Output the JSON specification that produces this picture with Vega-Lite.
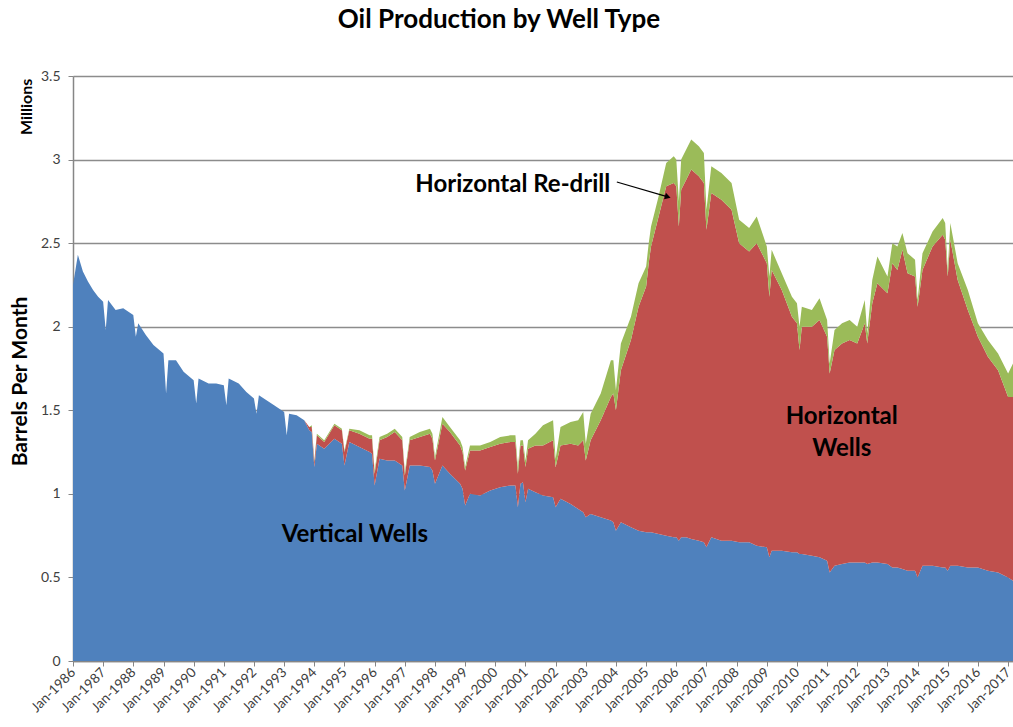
{
  "$schema": "https://vega.github.io/schema/vega-lite/v6.json",
  "width": 940,
  "height": 585,
  "autosize": {"type": "none"},
  "padding": {"left": 73, "top": 76, "right": 0, "bottom": 66},
  "background": "white",
  "config": {
    "font": "Lato",
    "view": {"stroke": null},
    "axis": {"labelFont": "Lato", "titleFont": "Lato"}
  },
  "title": {
    "text": "Oil Production by Well Type",
    "font": "Lato",
    "fontSize": 26,
    "fontWeight": "bold",
    "color": "#000000",
    "anchor": "middle",
    "dx": -44,
    "baseline": "alphabetic",
    "offset": 15
  },
  "datasets": {
    "production": [
      {"date": "1986-01-01", "vertical_wells": 2.25, "horizontal_wells": 0, "horizontal_redrill": 0},
      {"date": "1986-03-01", "vertical_wells": 2.43, "horizontal_wells": 0, "horizontal_redrill": 0},
      {"date": "1986-05-01", "vertical_wells": 2.33, "horizontal_wells": 0, "horizontal_redrill": 0},
      {"date": "1986-07-01", "vertical_wells": 2.27, "horizontal_wells": 0, "horizontal_redrill": 0},
      {"date": "1986-09-01", "vertical_wells": 2.22, "horizontal_wells": 0, "horizontal_redrill": 0},
      {"date": "1986-11-01", "vertical_wells": 2.18, "horizontal_wells": 0, "horizontal_redrill": 0},
      {"date": "1987-01-01", "vertical_wells": 2.15, "horizontal_wells": 0, "horizontal_redrill": 0},
      {"date": "1987-02-01", "vertical_wells": 1.98, "horizontal_wells": 0, "horizontal_redrill": 0},
      {"date": "1987-03-01", "vertical_wells": 2.16, "horizontal_wells": 0, "horizontal_redrill": 0},
      {"date": "1987-06-01", "vertical_wells": 2.10, "horizontal_wells": 0, "horizontal_redrill": 0},
      {"date": "1987-09-01", "vertical_wells": 2.11, "horizontal_wells": 0, "horizontal_redrill": 0},
      {"date": "1988-01-01", "vertical_wells": 2.07, "horizontal_wells": 0, "horizontal_redrill": 0},
      {"date": "1988-02-01", "vertical_wells": 1.94, "horizontal_wells": 0, "horizontal_redrill": 0},
      {"date": "1988-03-01", "vertical_wells": 2.02, "horizontal_wells": 0, "horizontal_redrill": 0},
      {"date": "1988-06-01", "vertical_wells": 1.95, "horizontal_wells": 0, "horizontal_redrill": 0},
      {"date": "1988-09-01", "vertical_wells": 1.89, "horizontal_wells": 0, "horizontal_redrill": 0},
      {"date": "1989-01-01", "vertical_wells": 1.84, "horizontal_wells": 0, "horizontal_redrill": 0},
      {"date": "1989-02-01", "vertical_wells": 1.60, "horizontal_wells": 0, "horizontal_redrill": 0},
      {"date": "1989-03-01", "vertical_wells": 1.80, "horizontal_wells": 0, "horizontal_redrill": 0},
      {"date": "1989-06-01", "vertical_wells": 1.80, "horizontal_wells": 0, "horizontal_redrill": 0},
      {"date": "1989-09-01", "vertical_wells": 1.73, "horizontal_wells": 0, "horizontal_redrill": 0},
      {"date": "1990-01-01", "vertical_wells": 1.68, "horizontal_wells": 0, "horizontal_redrill": 0},
      {"date": "1990-02-01", "vertical_wells": 1.54, "horizontal_wells": 0, "horizontal_redrill": 0},
      {"date": "1990-03-01", "vertical_wells": 1.69, "horizontal_wells": 0, "horizontal_redrill": 0},
      {"date": "1990-07-01", "vertical_wells": 1.66, "horizontal_wells": 0, "horizontal_redrill": 0},
      {"date": "1990-10-01", "vertical_wells": 1.66, "horizontal_wells": 0, "horizontal_redrill": 0},
      {"date": "1991-01-01", "vertical_wells": 1.65, "horizontal_wells": 0, "horizontal_redrill": 0},
      {"date": "1991-02-01", "vertical_wells": 1.53, "horizontal_wells": 0, "horizontal_redrill": 0},
      {"date": "1991-03-01", "vertical_wells": 1.69, "horizontal_wells": 0, "horizontal_redrill": 0},
      {"date": "1991-07-01", "vertical_wells": 1.66, "horizontal_wells": 0, "horizontal_redrill": 0},
      {"date": "1991-10-01", "vertical_wells": 1.61, "horizontal_wells": 0, "horizontal_redrill": 0},
      {"date": "1992-01-01", "vertical_wells": 1.57, "horizontal_wells": 0, "horizontal_redrill": 0},
      {"date": "1992-02-01", "vertical_wells": 1.48, "horizontal_wells": 0, "horizontal_redrill": 0},
      {"date": "1992-03-01", "vertical_wells": 1.59, "horizontal_wells": 0, "horizontal_redrill": 0},
      {"date": "1992-06-01", "vertical_wells": 1.56, "horizontal_wells": 0, "horizontal_redrill": 0},
      {"date": "1992-09-01", "vertical_wells": 1.53, "horizontal_wells": 0, "horizontal_redrill": 0},
      {"date": "1993-01-01", "vertical_wells": 1.49, "horizontal_wells": 0, "horizontal_redrill": 0},
      {"date": "1993-02-01", "vertical_wells": 1.35, "horizontal_wells": 0, "horizontal_redrill": 0},
      {"date": "1993-03-01", "vertical_wells": 1.48, "horizontal_wells": 0, "horizontal_redrill": 0},
      {"date": "1993-06-01", "vertical_wells": 1.47, "horizontal_wells": 0, "horizontal_redrill": 0},
      {"date": "1993-09-01", "vertical_wells": 1.44, "horizontal_wells": 0, "horizontal_redrill": 0},
      {"date": "1993-11-01", "vertical_wells": 1.38, "horizontal_wells": 0.02, "horizontal_redrill": 0},
      {"date": "1993-12-01", "vertical_wells": 1.37, "horizontal_wells": 0.03, "horizontal_redrill": 0.01},
      {"date": "1994-01-01", "vertical_wells": 1.16, "horizontal_wells": 0.03, "horizontal_redrill": 0.01},
      {"date": "1994-02-01", "vertical_wells": 1.30, "horizontal_wells": 0.05, "horizontal_redrill": 0.01},
      {"date": "1994-05-01", "vertical_wells": 1.27, "horizontal_wells": 0.04, "horizontal_redrill": 0.01},
      {"date": "1994-09-01", "vertical_wells": 1.33, "horizontal_wells": 0.08, "horizontal_redrill": 0.01},
      {"date": "1994-12-01", "vertical_wells": 1.30, "horizontal_wells": 0.08, "horizontal_redrill": 0.01},
      {"date": "1995-01-01", "vertical_wells": 1.17, "horizontal_wells": 0.08, "horizontal_redrill": 0.01},
      {"date": "1995-03-01", "vertical_wells": 1.31, "horizontal_wells": 0.07, "horizontal_redrill": 0.01},
      {"date": "1995-07-01", "vertical_wells": 1.28, "horizontal_wells": 0.08, "horizontal_redrill": 0.02},
      {"date": "1995-11-01", "vertical_wells": 1.25, "horizontal_wells": 0.08, "horizontal_redrill": 0.02},
      {"date": "1995-12-01", "vertical_wells": 1.24, "horizontal_wells": 0.09, "horizontal_redrill": 0.02},
      {"date": "1996-01-01", "vertical_wells": 1.05, "horizontal_wells": 0.07, "horizontal_redrill": 0.02},
      {"date": "1996-03-01", "vertical_wells": 1.21, "horizontal_wells": 0.11, "horizontal_redrill": 0.02},
      {"date": "1996-06-01", "vertical_wells": 1.20, "horizontal_wells": 0.14, "horizontal_redrill": 0.02},
      {"date": "1996-09-01", "vertical_wells": 1.20, "horizontal_wells": 0.17, "horizontal_redrill": 0.02},
      {"date": "1996-12-01", "vertical_wells": 1.17, "horizontal_wells": 0.15, "horizontal_redrill": 0.02},
      {"date": "1997-01-01", "vertical_wells": 1.02, "horizontal_wells": 0.09, "horizontal_redrill": 0.02},
      {"date": "1997-03-01", "vertical_wells": 1.17, "horizontal_wells": 0.15, "horizontal_redrill": 0.02},
      {"date": "1997-07-01", "vertical_wells": 1.17, "horizontal_wells": 0.17, "horizontal_redrill": 0.03},
      {"date": "1997-11-01", "vertical_wells": 1.16, "horizontal_wells": 0.20, "horizontal_redrill": 0.03},
      {"date": "1997-12-01", "vertical_wells": 1.14, "horizontal_wells": 0.19, "horizontal_redrill": 0.03},
      {"date": "1998-01-01", "vertical_wells": 1.06, "horizontal_wells": 0.14, "horizontal_redrill": 0.02},
      {"date": "1998-04-01", "vertical_wells": 1.17, "horizontal_wells": 0.25, "horizontal_redrill": 0.04},
      {"date": "1998-07-01", "vertical_wells": 1.12, "horizontal_wells": 0.25, "horizontal_redrill": 0.03},
      {"date": "1998-11-01", "vertical_wells": 1.06, "horizontal_wells": 0.23, "horizontal_redrill": 0.03},
      {"date": "1998-12-01", "vertical_wells": 1.03, "horizontal_wells": 0.22, "horizontal_redrill": 0.03},
      {"date": "1999-01-01", "vertical_wells": 0.93, "horizontal_wells": 0.21, "horizontal_redrill": 0.02},
      {"date": "1999-03-01", "vertical_wells": 1.00, "horizontal_wells": 0.26, "horizontal_redrill": 0.03},
      {"date": "1999-07-01", "vertical_wells": 0.99, "horizontal_wells": 0.27, "horizontal_redrill": 0.03},
      {"date": "1999-11-01", "vertical_wells": 1.02, "horizontal_wells": 0.26, "horizontal_redrill": 0.03},
      {"date": "2000-03-01", "vertical_wells": 1.04, "horizontal_wells": 0.26, "horizontal_redrill": 0.04},
      {"date": "2000-07-01", "vertical_wells": 1.05, "horizontal_wells": 0.26, "horizontal_redrill": 0.04},
      {"date": "2000-09-01", "vertical_wells": 1.05, "horizontal_wells": 0.26, "horizontal_redrill": 0.04},
      {"date": "2000-10-01", "vertical_wells": 0.92, "horizontal_wells": 0.20, "horizontal_redrill": 0.04},
      {"date": "2000-11-01", "vertical_wells": 1.06, "horizontal_wells": 0.23, "horizontal_redrill": 0.03},
      {"date": "2000-12-01", "vertical_wells": 1.07, "horizontal_wells": 0.22, "horizontal_redrill": 0.03},
      {"date": "2001-01-01", "vertical_wells": 0.95, "horizontal_wells": 0.21, "horizontal_redrill": 0.04},
      {"date": "2001-02-01", "vertical_wells": 1.03, "horizontal_wells": 0.24, "horizontal_redrill": 0.05},
      {"date": "2001-05-01", "vertical_wells": 1.01, "horizontal_wells": 0.28, "horizontal_redrill": 0.07},
      {"date": "2001-08-01", "vertical_wells": 0.99, "horizontal_wells": 0.30, "horizontal_redrill": 0.12},
      {"date": "2001-12-01", "vertical_wells": 0.98, "horizontal_wells": 0.34, "horizontal_redrill": 0.12},
      {"date": "2002-01-01", "vertical_wells": 0.92, "horizontal_wells": 0.24, "horizontal_redrill": 0.05},
      {"date": "2002-03-01", "vertical_wells": 0.97, "horizontal_wells": 0.32, "horizontal_redrill": 0.11},
      {"date": "2002-07-01", "vertical_wells": 0.94, "horizontal_wells": 0.36, "horizontal_redrill": 0.13},
      {"date": "2002-10-01", "vertical_wells": 0.91, "horizontal_wells": 0.38, "horizontal_redrill": 0.15},
      {"date": "2002-12-01", "vertical_wells": 0.89, "horizontal_wells": 0.43, "horizontal_redrill": 0.17},
      {"date": "2003-01-01", "vertical_wells": 0.86, "horizontal_wells": 0.34, "horizontal_redrill": 0.10},
      {"date": "2003-03-01", "vertical_wells": 0.88, "horizontal_wells": 0.44, "horizontal_redrill": 0.16},
      {"date": "2003-07-01", "vertical_wells": 0.86, "horizontal_wells": 0.58, "horizontal_redrill": 0.16},
      {"date": "2003-11-01", "vertical_wells": 0.84, "horizontal_wells": 0.74, "horizontal_redrill": 0.22},
      {"date": "2003-12-01", "vertical_wells": 0.83, "horizontal_wells": 0.77, "horizontal_redrill": 0.20},
      {"date": "2004-01-01", "vertical_wells": 0.78, "horizontal_wells": 0.72, "horizontal_redrill": 0.12},
      {"date": "2004-03-01", "vertical_wells": 0.83, "horizontal_wells": 0.91, "horizontal_redrill": 0.16},
      {"date": "2004-07-01", "vertical_wells": 0.80, "horizontal_wells": 1.12, "horizontal_redrill": 0.14},
      {"date": "2004-10-01", "vertical_wells": 0.78, "horizontal_wells": 1.34, "horizontal_redrill": 0.14},
      {"date": "2005-01-01", "vertical_wells": 0.77, "horizontal_wells": 1.47, "horizontal_redrill": 0.12},
      {"date": "2005-02-01", "vertical_wells": 0.77, "horizontal_wells": 1.61, "horizontal_redrill": 0.12},
      {"date": "2005-03-01", "vertical_wells": 0.77, "horizontal_wells": 1.71, "horizontal_redrill": 0.12},
      {"date": "2005-06-01", "vertical_wells": 0.76, "horizontal_wells": 1.90, "horizontal_redrill": 0.12},
      {"date": "2005-09-01", "vertical_wells": 0.75, "horizontal_wells": 2.09, "horizontal_redrill": 0.14},
      {"date": "2005-12-01", "vertical_wells": 0.74, "horizontal_wells": 2.12, "horizontal_redrill": 0.16},
      {"date": "2006-01-01", "vertical_wells": 0.74, "horizontal_wells": 2.10, "horizontal_redrill": 0.16},
      {"date": "2006-02-01", "vertical_wells": 0.72, "horizontal_wells": 1.88, "horizontal_redrill": 0.15},
      {"date": "2006-03-01", "vertical_wells": 0.74, "horizontal_wells": 2.08, "horizontal_redrill": 0.18},
      {"date": "2006-05-01", "vertical_wells": 0.74, "horizontal_wells": 2.14, "horizontal_redrill": 0.18},
      {"date": "2006-07-01", "vertical_wells": 0.73, "horizontal_wells": 2.21, "horizontal_redrill": 0.18},
      {"date": "2006-10-01", "vertical_wells": 0.72, "horizontal_wells": 2.18, "horizontal_redrill": 0.18},
      {"date": "2006-12-01", "vertical_wells": 0.71, "horizontal_wells": 2.15, "horizontal_redrill": 0.18},
      {"date": "2007-01-01", "vertical_wells": 0.68, "horizontal_wells": 1.90, "horizontal_redrill": 0.12},
      {"date": "2007-03-01", "vertical_wells": 0.74, "horizontal_wells": 2.06, "horizontal_redrill": 0.16},
      {"date": "2007-07-01", "vertical_wells": 0.72, "horizontal_wells": 2.04, "horizontal_redrill": 0.16},
      {"date": "2007-11-01", "vertical_wells": 0.72, "horizontal_wells": 1.98, "horizontal_redrill": 0.16},
      {"date": "2008-02-01", "vertical_wells": 0.71, "horizontal_wells": 1.79, "horizontal_redrill": 0.14},
      {"date": "2008-06-01", "vertical_wells": 0.71, "horizontal_wells": 1.74, "horizontal_redrill": 0.14},
      {"date": "2008-09-01", "vertical_wells": 0.69, "horizontal_wells": 1.81, "horizontal_redrill": 0.16},
      {"date": "2009-01-01", "vertical_wells": 0.68, "horizontal_wells": 1.70, "horizontal_redrill": 0.10},
      {"date": "2009-02-01", "vertical_wells": 0.62, "horizontal_wells": 1.56, "horizontal_redrill": 0.12},
      {"date": "2009-03-01", "vertical_wells": 0.66, "horizontal_wells": 1.68, "horizontal_redrill": 0.12},
      {"date": "2009-07-01", "vertical_wells": 0.66, "horizontal_wells": 1.56, "horizontal_redrill": 0.10},
      {"date": "2009-11-01", "vertical_wells": 0.65, "horizontal_wells": 1.41, "horizontal_redrill": 0.12},
      {"date": "2010-01-01", "vertical_wells": 0.65, "horizontal_wells": 1.37, "horizontal_redrill": 0.12},
      {"date": "2010-02-01", "vertical_wells": 0.64, "horizontal_wells": 1.22, "horizontal_redrill": 0.14},
      {"date": "2010-03-01", "vertical_wells": 0.64, "horizontal_wells": 1.36, "horizontal_redrill": 0.12},
      {"date": "2010-07-01", "vertical_wells": 0.63, "horizontal_wells": 1.37, "horizontal_redrill": 0.10},
      {"date": "2010-10-01", "vertical_wells": 0.62, "horizontal_wells": 1.42, "horizontal_redrill": 0.13},
      {"date": "2011-01-01", "vertical_wells": 0.60, "horizontal_wells": 1.34, "horizontal_redrill": 0.10},
      {"date": "2011-02-01", "vertical_wells": 0.53, "horizontal_wells": 1.19, "horizontal_redrill": 0.06},
      {"date": "2011-04-01", "vertical_wells": 0.57, "horizontal_wells": 1.29, "horizontal_redrill": 0.12},
      {"date": "2011-07-01", "vertical_wells": 0.58, "horizontal_wells": 1.32, "horizontal_redrill": 0.12},
      {"date": "2011-10-01", "vertical_wells": 0.59, "horizontal_wells": 1.33, "horizontal_redrill": 0.12},
      {"date": "2012-01-01", "vertical_wells": 0.59, "horizontal_wells": 1.31, "horizontal_redrill": 0.10},
      {"date": "2012-04-01", "vertical_wells": 0.59, "horizontal_wells": 1.43, "horizontal_redrill": 0.14},
      {"date": "2012-05-01", "vertical_wells": 0.58, "horizontal_wells": 1.32, "horizontal_redrill": 0.06},
      {"date": "2012-07-01", "vertical_wells": 0.59, "horizontal_wells": 1.55, "horizontal_redrill": 0.14},
      {"date": "2012-09-01", "vertical_wells": 0.59, "horizontal_wells": 1.67, "horizontal_redrill": 0.16},
      {"date": "2013-01-01", "vertical_wells": 0.58, "horizontal_wells": 1.62, "horizontal_redrill": 0.10},
      {"date": "2013-03-01", "vertical_wells": 0.56, "horizontal_wells": 1.82, "horizontal_redrill": 0.12},
      {"date": "2013-05-01", "vertical_wells": 0.56, "horizontal_wells": 1.78, "horizontal_redrill": 0.14},
      {"date": "2013-07-01", "vertical_wells": 0.55, "horizontal_wells": 1.91, "horizontal_redrill": 0.10},
      {"date": "2013-09-01", "vertical_wells": 0.54, "horizontal_wells": 1.78, "horizontal_redrill": 0.12},
      {"date": "2013-12-01", "vertical_wells": 0.54, "horizontal_wells": 1.76, "horizontal_redrill": 0.10},
      {"date": "2014-01-01", "vertical_wells": 0.50, "horizontal_wells": 1.62, "horizontal_redrill": 0.04},
      {"date": "2014-03-01", "vertical_wells": 0.57, "horizontal_wells": 1.77, "horizontal_redrill": 0.10},
      {"date": "2014-07-01", "vertical_wells": 0.57, "horizontal_wells": 1.91, "horizontal_redrill": 0.09},
      {"date": "2014-11-01", "vertical_wells": 0.56, "horizontal_wells": 1.99, "horizontal_redrill": 0.10},
      {"date": "2014-12-01", "vertical_wells": 0.56, "horizontal_wells": 1.96, "horizontal_redrill": 0.10},
      {"date": "2015-01-01", "vertical_wells": 0.54, "horizontal_wells": 1.76, "horizontal_redrill": 0.04},
      {"date": "2015-02-01", "vertical_wells": 0.57, "horizontal_wells": 1.95, "horizontal_redrill": 0.10},
      {"date": "2015-05-01", "vertical_wells": 0.57, "horizontal_wells": 1.71, "horizontal_redrill": 0.10},
      {"date": "2015-09-01", "vertical_wells": 0.56, "horizontal_wells": 1.54, "horizontal_redrill": 0.12},
      {"date": "2016-01-01", "vertical_wells": 0.56, "horizontal_wells": 1.38, "horizontal_redrill": 0.08},
      {"date": "2016-05-01", "vertical_wells": 0.54, "horizontal_wells": 1.28, "horizontal_redrill": 0.10},
      {"date": "2016-09-01", "vertical_wells": 0.53, "horizontal_wells": 1.21, "horizontal_redrill": 0.10},
      {"date": "2017-01-01", "vertical_wells": 0.50, "horizontal_wells": 1.08, "horizontal_redrill": 0.14},
      {"date": "2017-03-01", "vertical_wells": 0.48, "horizontal_wells": 1.10, "horizontal_redrill": 0.20}
    ],
    "labels": [
      {"date": "1995-05-07", "value": 0.754, "label": "Vertical Wells"},
      {"date": "2011-06-27", "value": 1.46, "label": "Horizontal\nWells"},
      {"date": "2000-07-31", "value": 2.849, "label": "Horizontal Re-drill"}
    ],
    "units": [
      {"date": "1984-06-22", "value": 3.315, "label": "Millions"}
    ],
    "arrow": [
      {"date": "2004-01-12", "value": 2.866, "date_end": "2005-09-20", "value_end": 2.777}
    ]
  },
  "layer": [
    {
      "data": {"name": "production"},
      "transform": [
        {"fold": ["vertical_wells", "horizontal_wells", "horizontal_redrill"], "as": ["type", "value"]}
      ],
      "mark": {"type": "area", "interpolate": "linear", "line": false, "opacity": 1},
      "encoding": {
        "x": {
          "field": "date",
          "type": "temporal",
          "scale": {"type": "utc", "domain": ["1986-01-01", "2017-03-01"]},
          "axis": {
            "title": null,
            "format": "%b-%Y",
            "tickCount": {"interval": "year", "step": 1},
            "labelAngle": -45,
            "labelAlign": "right",
            "labelBaseline": "middle",
            "labelFontSize": 13.5,
            "labelColor": "#404040",
            "labelOverlap": false,
            "labelFlush": false,
            "labelPadding": 4,
            "grid": false,
            "domainColor": "#868686",
            "domainWidth": 1.5,
            "tickColor": "#868686",
            "tickSize": 5,
            "tickWidth": 1
          }
        },
        "y": {
          "field": "value",
          "type": "quantitative",
          "stack": "zero",
          "scale": {"domain": [0, 3.5], "nice": false},
          "axis": {
            "title": "Barrels Per Month",
            "titleFontSize": 21,
            "titleFontWeight": "bold",
            "titleColor": "#000000",
            "titleX": -53,
            "titleY": 305,
            "titleAngle": -90,
            "titleAlign": "center",
            "titleBaseline": "middle",
            "values": [0, 0.5, 1, 1.5, 2, 2.5, 3, 3.5],
            "format": "~g",
            "labelFontSize": 14,
            "labelColor": "#404040",
            "labelPadding": 8,
            "grid": true,
            "gridColor": "#8c8c8c",
            "gridWidth": 1.3,
            "domainColor": "#868686",
            "domainWidth": 1.5,
            "tickColor": "#868686",
            "tickSize": 5
          }
        },
        "color": {
          "field": "type",
          "type": "nominal",
          "scale": {
            "domain": ["vertical_wells", "horizontal_wells", "horizontal_redrill"],
            "range": ["#4F81BD", "#C0504D", "#9BBB59"]
          },
          "legend": null
        },
        "order": {"field": "type", "sort": "descending"}
      }
    },
    {
      "data": {"name": "labels"},
      "mark": {"type": "text", "font": "Lato", "fontSize": 24, "fontWeight": "bold", "color": "#000000", "align": "center", "baseline": "middle", "lineBreak": "\n", "lineHeight": 32},
      "encoding": {
        "x": {"field": "date", "type": "temporal"},
        "y": {"field": "value", "type": "quantitative"},
        "text": {"field": "label"}
      }
    },
    {
      "data": {"name": "units"},
      "mark": {"type": "text", "font": "Lato", "fontSize": 16, "fontWeight": "bold", "color": "#000000", "align": "center", "baseline": "middle", "angle": 270},
      "encoding": {
        "x": {"field": "date", "type": "temporal"},
        "y": {"field": "value", "type": "quantitative"},
        "text": {"field": "label"}
      }
    },
    {
      "data": {"name": "arrow"},
      "mark": {"type": "rule", "color": "#000000", "strokeWidth": 1.2},
      "encoding": {
        "x": {"field": "date", "type": "temporal"},
        "y": {"field": "value", "type": "quantitative"},
        "x2": {"field": "date_end"},
        "y2": {"field": "value_end"}
      }
    },
    {
      "data": {"name": "arrow"},
      "mark": {"type": "point", "shape": "triangle-right", "filled": true, "color": "#000000", "size": 45, "angle": 16, "opacity": 1},
      "encoding": {
        "x": {"field": "date_end", "type": "temporal"},
        "y": {"field": "value_end", "type": "quantitative"}
      }
    }
  ]
}
